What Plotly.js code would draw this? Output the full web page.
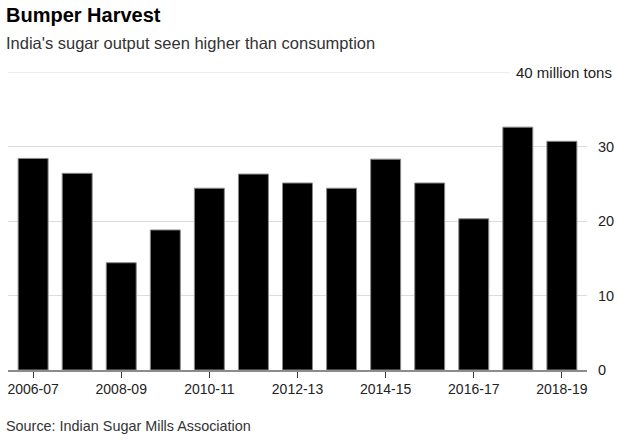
<!DOCTYPE html>
<html>
<head>
<meta charset="utf-8">
<script src="https://cdn.plot.ly/plotly-3.0.1.min.js"></script>
<style>
  html, body { margin: 0; padding: 0; background: #fff; }
  #chart { width: 618px; height: 442px; }
</style>
</head>
<body>
<div id="chart"></div>
<script>
// Sugar production by season, million tons
const seasons = ['2006-07', '2007-08', '2008-09', '2009-10', '2010-11', '2011-12', '2012-13',
                 '2013-14', '2014-15', '2015-16', '2016-17', '2017-18', '2018-19'];
const output = [28.4, 26.4, 14.4, 18.8, 24.4, 26.3, 25.1, 24.4, 28.3, 25.1, 20.3, 32.6, 30.7];

// Labelled seasons along the bottom axis
const seasonTicks = ['2006-07', '2008-09', '2010-11', '2012-13', '2014-15', '2016-17', '2018-19'];
const valueTicks = [0, 10, 20, 30];
const topValue = 40;
const topLabel = '40 million tons';

const FONT = '"Liberation Sans", Arial, Helvetica, sans-serif';

const trace = {
  type: 'bar',
  x: seasons,
  y: output,
  width: 0.68,
  marker: { color: '#000', line: { color: '#8a8a8a', width: 1 } },
  hoverinfo: 'x+y'
};

const layout = {
  width: 618,
  height: 442,
  margin: { l: 8, r: 31, t: 72, b: 72 },
  paper_bgcolor: '#fff',
  plot_bgcolor: '#fff',
  showlegend: false,
  font: { family: FONT, color: '#222' },
  bargap: 0,
  xaxis: {
    type: 'category',
    range: [-0.57, 12.57],
    tickmode: 'array',
    tickvals: seasonTicks,
    ticktext: seasonTicks,
    ticks: 'outside',
    ticklen: 6,
    tickwidth: 1,
    tickcolor: '#333',
    tickfont: { size: 14, color: '#222', family: FONT },
    showgrid: false,
    showline: true,
    linecolor: '#8c8c8c',
    linewidth: 1.5,
    zeroline: false,
    fixedrange: true
  },
  yaxis: {
    side: 'right',
    range: [0, topValue],
    tickmode: 'array',
    tickvals: valueTicks,
    ticktext: valueTicks.map(String),
    ticks: 'outside',
    ticklen: 7,
    tickcolor: 'rgba(0,0,0,0)',
    tickfont: { size: 14.5, color: '#222', family: FONT },
    showgrid: true,
    gridcolor: '#dcdcdc',
    gridwidth: 1,
    zeroline: false,
    showline: false,
    fixedrange: true
  },
  shapes: [
    {
      type: 'line', xref: 'paper', yref: 'y',
      x0: 0, x1: 0.867, y0: topValue, y1: topValue,
      line: { color: '#dcdcdc', width: 1 }
    }
  ],
  annotations: [
    {
      text: '<b>Bumper Harvest</b>',
      xref: 'paper', yref: 'paper', x: 0, y: 1,
      xanchor: 'left', yanchor: 'middle', xshift: -4, yshift: 57,
      showarrow: false,
      font: { size: 20, color: '#000', family: FONT }
    },
    {
      text: "India's sugar output seen higher than consumption",
      xref: 'paper', yref: 'paper', x: 0, y: 1,
      xanchor: 'left', yanchor: 'middle', xshift: -4, yshift: 29,
      showarrow: false,
      font: { size: 16.5, color: '#333', family: FONT }
    },
    {
      text: topLabel,
      xref: 'paper', yref: 'y', x: 1, y: topValue,
      xanchor: 'right', yanchor: 'middle', xshift: 27,
      showarrow: false,
      font: { size: 15, color: '#222', family: FONT }
    },
    {
      text: 'Source: Indian Sugar Mills Association',
      xref: 'paper', yref: 'paper', x: 0, y: 0,
      xanchor: 'left', yanchor: 'middle', xshift: -4, yshift: -56,
      showarrow: false,
      font: { size: 14.4, color: '#333', family: FONT }
    }
  ]
};

Plotly.newPlot('chart', [trace], layout, { displayModeBar: false, staticPlot: true });
</script>
</body>
</html>
